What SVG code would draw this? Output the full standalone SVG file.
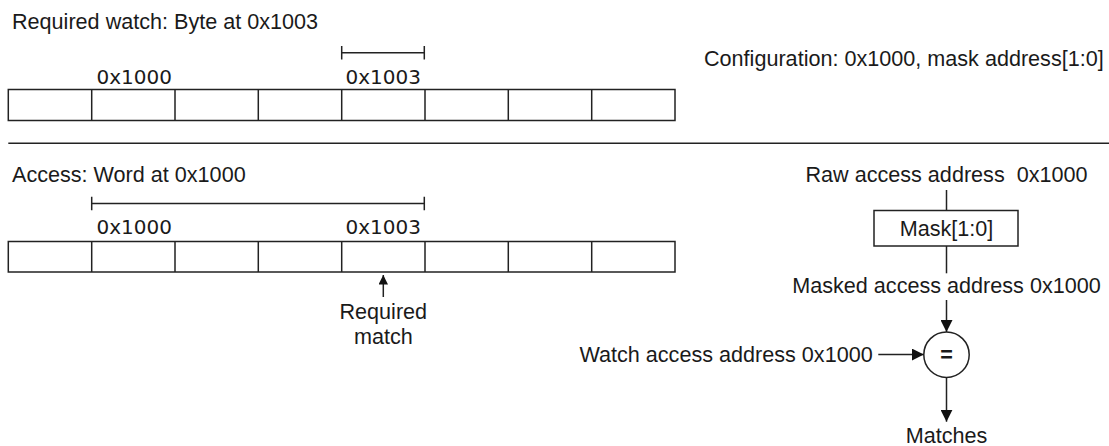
<svg xmlns="http://www.w3.org/2000/svg" width="1109" height="446" viewBox="0 0 1109 446">
<style>
.t{font-family:"Liberation Sans",Arial,sans-serif;font-size:21.6px;fill:#1a1a1a}
.h{font-family:"DejaVu Sans","Liberation Sans",sans-serif;font-size:20px;fill:#1a1a1a}
.c{fill:#fff;stroke:#222;stroke-width:1.5}
.ln{fill:none;stroke:#222;stroke-width:1.5}
.m{text-anchor:middle}
.e{text-anchor:end}
</style>
<defs>
<marker id="ah" viewBox="0 0 10 10" refX="10" refY="5" markerUnits="userSpaceOnUse" markerWidth="12" markerHeight="12" orient="auto">
<path d="M0,0 L10,5 L0,10 z" fill="#111"/>
</marker>
<marker id="ahs" viewBox="0 0 10 10" refX="10" refY="5" markerUnits="userSpaceOnUse" markerWidth="10" markerHeight="9.5" orient="auto">
<path d="M0,0 L10,5 L0,10 z" fill="#111"/>
</marker>
</defs>
<rect width="1109" height="446" fill="#fff"/>

<g id="watch-row">
<text class="t" x="12" y="29">Required watch: Byte at 0x1003</text>
<path class="ln" d="M341.7,52.7 H424.3 M341.7,46 V59.4 M424.3,46 V59.4"/>
<text class="h" x="96.5" y="83.5">0x1000</text>
<text class="h e" x="421" y="83.5">0x1003</text>
<rect class="c" x="8.3" y="89.5" width="666.7" height="31"/>
<path class="ln" d="M91.7,89.5V120.5 M175,89.5V120.5 M258.3,89.5V120.5 M341.7,89.5V120.5 M425,89.5V120.5 M508.3,89.5V120.5 M591.7,89.5V120.5"/>
</g>

<g id="configuration">
<text class="t" x="704" y="66">Configuration: 0x1000, mask address[1:0]</text>
</g>

<g id="separator">
<line class="ln" x1="8.3" y1="143.3" x2="1109" y2="143.3"/>
</g>

<g id="access-row">
<text class="t" x="12" y="181.5">Access: Word at 0x1000</text>
<path class="ln" d="M91.7,203.5 H424.3 M91.7,196.8 V210.2 M424.3,196.8 V210.2"/>
<text class="h" x="96.5" y="234">0x1000</text>
<text class="h e" x="421" y="234">0x1003</text>
<rect class="c" x="8.3" y="241.5" width="666.7" height="30.5"/>
<path class="ln" d="M91.7,241.5V272 M175,241.5V272 M258.3,241.5V272 M341.7,241.5V272 M425,241.5V272 M508.3,241.5V272 M591.7,241.5V272"/>
</g>

<g id="required-match">
<text class="t m" x="383.3" y="318.5">Required</text>
<text class="t m" x="383.3" y="343.5">match</text>
</g>

<g id="raw-address">
<text class="t m" x="946.5" y="181.5" style="white-space:pre">Raw access address  0x1000</text>
</g>

<g id="mask">
<rect class="c" x="874" y="210.5" width="144" height="35.5"/>
<text class="t m" x="946.5" y="236">Mask[1:0]</text>
</g>

<g id="masked-address">
<text class="t m" x="946.5" y="293">Masked access address 0x1000</text>
</g>

<g id="watch-address">
<text class="t e" x="872.7" y="361.5">Watch access address 0x1000</text>
</g>

<g id="comparator">
<circle class="c" cx="946.5" cy="354.7" r="22.7"/>
<text class="t m" x="946.5" y="362" font-weight="bold">=</text>
</g>

<g id="matches">
<text class="t m" x="946.5" y="443">Matches</text>
</g>

<g id="connectors">
<line class="ln" x1="383.3" y1="297" x2="383.3" y2="275" marker-end="url(#ahs)"/>
<line class="ln" x1="946.5" y1="190" x2="946.5" y2="210.5"/>
<line class="ln" x1="946.5" y1="246" x2="946.5" y2="273.3"/>
<line class="ln" x1="946.5" y1="300" x2="946.5" y2="332" marker-end="url(#ah)"/>
<line class="ln" x1="878.3" y1="354.5" x2="923.8" y2="354.5" marker-end="url(#ah)"/>
<line class="ln" x1="946.5" y1="377.4" x2="946.5" y2="421.7" marker-end="url(#ah)"/>
</g>
</svg>
